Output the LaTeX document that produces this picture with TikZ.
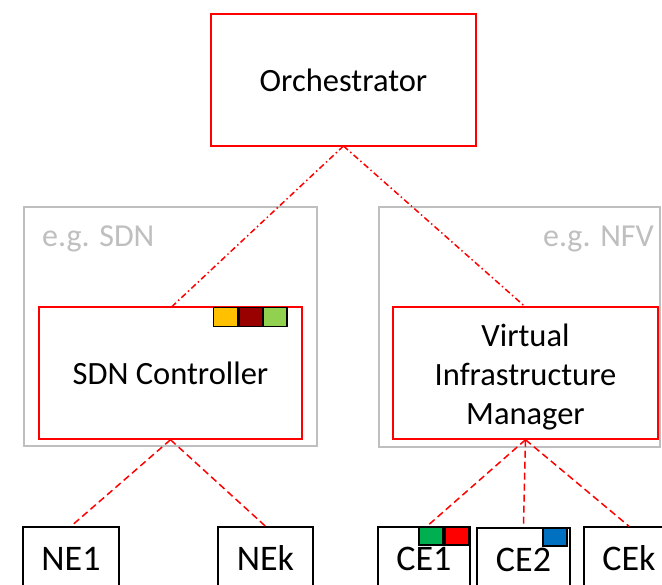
\documentclass[tikz,border=0pt]{standalone}
\usepackage{fontspec}
\setmainfont{Carlito}
\definecolor{grayline}{RGB}{191,191,191}
\definecolor{graytxt}{RGB}{191,191,191}
\definecolor{chipyellow}{RGB}{255,192,0}
\definecolor{chipdarkred}{RGB}{153,0,0}
\definecolor{chiplightgreen}{RGB}{146,208,80}
\definecolor{chipgreen}{RGB}{0,176,80}
\definecolor{chipred}{RGB}{255,0,0}
\definecolor{chipblue}{RGB}{0,112,192}
\begin{document}
\begin{tikzpicture}[x=1pt,y=-1pt,
  redbox/.style={draw=red, line width=1.5pt, inner sep=0pt, fill=white},
  graybox/.style={draw=grayline, line width=1.5pt, inner sep=0pt},
  blackbox/.style={draw=black, line width=1.5pt, inner sep=0pt, fill=white},
  chip/.style={draw=black, line width=1.2pt, minimum width=24pt, minimum height=19pt, inner sep=0pt},
  maintext/.style={font=\fontsize{32.5}{39}\selectfont},
  bottomtext/.style={font=\fontsize{36}{42}\selectfont},
  graytext/.style={font=\fontsize{32}{39}\selectfont, text=graytxt, inner sep=0pt},
  ctrl/.style={draw=red, line width=1.5pt, dash pattern=on 6pt off 3pt on 1.5pt off 3pt},
  data/.style={draw=red, line width=1.5pt, dash pattern=on 7pt off 4pt}]
\clip (0,0) rectangle (662,585);
\fill[white] (0,0) rectangle (662,585);

% gray domain boxes
\node[graybox, minimum width=293pt, minimum height=239pt] (sdnarea) at (170.5,326.5) {};
\node[graybox, minimum width=281pt, minimum height=240pt] (nfvarea) at (519.5,327) {};
\node[graytext, anchor=base west] (sdnlbl) at (42,247) {e.g. SDN};
\node[graytext, anchor=base east] (nfvlbl) at (654,247) {e.g. NFV};

% connectors to the orchestrator
\coordinate (orchs) at (343.5,146);
\coordinate (sdnn) at (171.5,307);
\coordinate (vimn) at (525.5,307);
\draw[ctrl] (orchs) -- (sdnn);
\draw[ctrl] (orchs) -- (vimn);

% red boxes
\node[redbox, maintext, minimum width=265pt, minimum height=132pt] (orch) at (343.5,80) {Orchestrator};
\node[redbox, maintext, minimum width=263pt, minimum height=132pt] (sdn) at (170.5,373) {SDN Controller};
\node[redbox, minimum width=265pt, minimum height=132pt] (vim) at (525.5,373) {};
\node[maintext, align=center] (vimtxt) at (525.5,377) {Virtual\\Infrastructure\\Manager};

% bottom element boxes
\node[blackbox, bottomtext, minimum width=96pt, minimum height=63pt] (ne1) at (71,558.5) {NE1};
\node[blackbox, bottomtext, minimum width=95pt, minimum height=63pt] (nek) at (265.5,558.5) {NEk};
\node[blackbox, bottomtext, minimum width=92pt, minimum height=63pt] (ce1) at (424,558.5) {CE1};
\node[blackbox, bottomtext, minimum width=93pt, minimum height=63pt] (ce2) at (523.5,559.5) {CE2};
\node[blackbox, bottomtext, minimum width=90pt, minimum height=63pt] (cek) at (629,558.5) {CEk};

\draw[data] (sdn.south) -- (ne1.north);
\draw[data] (sdn.south) -- (nek.north);
\draw[data] (vim.south) -- ([xshift=3pt]ce1.north);
\draw[data] (vim.south) -- (ce2.north);
\draw[data] (vim.south) -- (cek.north);

% slice chips
\node[chip, fill=chipyellow] (c1) at (225.3,317.2) {};
\node[chip, fill=chipdarkred] (c2) at (251,317.2) {};
\node[chip, fill=chiplightgreen] (c3) at (275,317.2) {};
\node[chip, fill=chipgreen, minimum height=18pt] (c4) at (431,536) {};
\node[chip, fill=chipred, minimum height=18pt] (c5) at (457,536) {};
\node[chip, fill=chipblue, minimum height=18pt] (c6) at (555,537) {};
\end{tikzpicture}
\end{document}
